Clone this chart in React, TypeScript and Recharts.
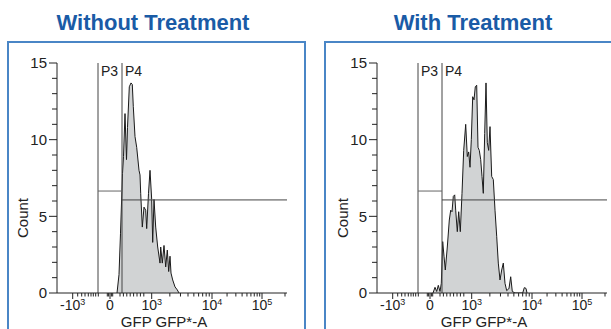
import React from 'react';
import { ComposedChart, Area, XAxis, YAxis, ReferenceLine, Label } from 'recharts';

const FONT = '"Liberation Sans", Arial, Helvetica, sans-serif';

// histogram outlines, x is the display channel of the biex axis (0..230)
const withoutChannels = [60, 62, 63.5, 65.5, 66.5, 68, 69.5, 70.5, 72.3, 74, 75.3, 76.3, 78, 79.7, 82, 83, 83.7, 85.3, 87, 88.7, 89.7, 91.5, 93, 94.7, 95.7, 97, 98.7, 100.7, 103, 103.7, 105.3, 107, 108.7, 110.3, 111.7, 113, 114, 115.7, 118, 120.3, 122];
const withoutCounts = [0, 1.2, 3.9, 7.8, 8.9, 11.7, 8.7, 10.8, 13.45, 13.7, 13.6, 12.15, 10.2, 9.5, 8.0, 7.7, 6.5, 4.3, 5.6, 5.4, 4.2, 6.5, 8.0, 6.1, 3.3, 6.1, 4.3, 3.0, 1.95, 3.0, 1.95, 3.1, 1.7, 2.8, 1.4, 2.4, 1.3, 0.85, 0.4, 0.2, 0];

const withChannels = [56, 58, 59.7, 61.3, 63, 64.3, 65.7, 67, 68.3, 70.3, 72.3, 73.7, 75, 76.3, 77.7, 78.7, 80.3, 81.7, 83.3, 85, 86.7, 88.7, 90.3, 91.7, 93, 94.3, 95.7, 97, 98.3, 99.7, 101, 102.3, 103.7, 105, 106.3, 107.7, 109, 110.3, 111.7, 113, 114.7, 116.3, 118, 119.7, 121.3, 123, 124.7, 126.3, 128, 129.7, 132, 133.7, 135.3, 138, 145.7, 147.3, 149, 150];
const withCounts = [0, 0.37, 0.1, 0.5, 0.1, 0.63, 3.35, 2.4, 1.5, 3.0, 4.76, 5.4, 5.3, 6.3, 6.4, 5.4, 4.0, 5.3, 4.0, 6.5, 9.3, 11.0, 8.9, 9.2, 8.2, 10.0, 12.8, 12.6, 13.45, 13.55, 9.5, 9.3, 8.7, 7.6, 6.5, 10.4, 13.7, 9.8, 9.3, 10.85, 7.6, 7.4, 5.4, 3.7, 1.95, 0.85, 1.5, 1.95, 0.63, 0.15, 0.3, 1.06, 0.1, 0, 0, 0.35, 0.3, 0];

// axis ticks (channels)
const xMajorTicks = [15.7, 53, 94.7, 155, 205];
const xTickBase = ['-10', '0', '10', '10', '10'];
const xTickPower = ['3', '', '3', '4', '5'];
const xMinorTicks = [
  20.7, 24.7, 28, 31.3, 34, 36.3, 38.7, 41.3,
  50.3, 51.6, 54.4, 55.7,
  63, 66.4, 69.8, 73.2, 76.6, 80, 83.4, 86.8,
  ...[2, 3, 4, 5, 6, 7, 8, 9].map((k) => 94.7 + 60.3 * Math.log10(k)),
  ...[2, 3, 4, 5, 6, 7, 8, 9].map((k) => 155 + 50 * Math.log10(k)),
  228,
];
const xTicks = [...xMajorTicks, ...xMinorTicks].sort((a, b) => a - b);
const yTicks = [0, 1, 2, 3, 4, 5, 6, 7, 8, 9, 10, 11, 12, 13, 14, 15];

// gates
const gateP3 = 41;
const gateP4 = 65;
const levelP3 = 6.65;
const levelP4 = 6.07;

const toRows = (xs: number[], ys: number[]) => xs.map((ch, i) => ({ ch, count: ys[i] }));

const XTick = (props: any) => {
  const { x, y, payload } = props;
  const i = xMajorTicks.indexOf(payload.value);
  if (i < 0) return <line x1={x} x2={x} y1={y} y2={y + 3.5} stroke="#222" />;
  return (
    <g>
      <line x1={x} x2={x} y1={y} y2={y + 6} stroke="#222" />
      <text x={x} y={y + 17} textAnchor="middle" fontSize={14} fill="#222" fontFamily={FONT}>
        {xTickBase[i]}
        {xTickPower[i] ? <tspan dy={-5} fontSize={9}>{xTickPower[i]}</tspan> : null}
      </text>
    </g>
  );
};

const YTick = (props: any) => {
  const { x, y, payload } = props;
  const major = payload.value % 5 === 0;
  return (
    <g>
      <line x1={x - (major ? 8 : 5)} x2={x} y1={y} y2={y} stroke="#222" />
      {major && (
        <text x={x - 10} y={y} dy="0.35em" textAnchor="end" fontSize={15} fill="#222" fontFamily={FONT}>
          {payload.value}
        </text>
      )}
    </g>
  );
};

const gateLabel = (text: string) => ({
  value: text,
  position: 'insideTopLeft' as const,
  offset: 3,
  fontSize: 14,
  fill: '#222',
  fontFamily: FONT,
});

const Panel = ({ rows }: { rows: { ch: number; count: number }[] }) => (
  <ComposedChart width={300} height={329} data={rows} margin={{ top: 63, right: 13, bottom: 0, left: 10 }}>
    <XAxis
      type="number"
      dataKey="ch"
      domain={[0, 230]}
      allowDataOverflow
      ticks={xTicks}
      interval={0}
      tick={<XTick />}
      tickSize={0}
      tickMargin={0}
      tickLine={false}
      axisLine={{ stroke: '#222' }}
      height={36}
    >
      <Label
        content={() => (
          <text x={164} y={326.5} textAnchor="middle" fontSize={15} fill="#222" fontFamily={FONT}>
            GFP GFP*-A
          </text>
        )}
      />
    </XAxis>
    <YAxis
      type="number"
      domain={[0, 15]}
      allowDataOverflow
      ticks={yTicks}
      interval={0}
      tick={<YTick />}
      tickSize={0}
      tickMargin={0}
      tickLine={false}
      axisLine={{ stroke: '#222' }}
      width={47}
    >
      <Label
        content={() => (
          <text x={22} y={218} transform="rotate(-90, 22, 218)" textAnchor="middle" dominantBaseline="central" fontSize={15} fill="#222" fontFamily={FONT}>
            Count
          </text>
        )}
      />
    </YAxis>
    <Area
      type="linear"
      dataKey="count"
      stroke="#1a1a1a"
      strokeWidth={1}
      fill="#d1d3d4"
      fillOpacity={1}
      baseValue={0}
      dot={false}
      activeDot={false}
      isAnimationActive={false}
    />
    <ReferenceLine x={gateP3} stroke="#444" label={gateLabel('P3')} />
    <ReferenceLine x={gateP4} stroke="#444" label={gateLabel('P4')} />
    <ReferenceLine segment={[{ x: gateP3, y: levelP3 }, { x: gateP4, y: levelP3 }]} stroke="#666" />
    <ReferenceLine segment={[{ x: gateP4, y: levelP4 }, { x: 230, y: levelP4 }]} stroke="#444" />
  </ComposedChart>
);

const titleStyle: React.CSSProperties = {
  position: 'absolute',
  top: 10,
  width: 300,
  textAlign: 'center',
  fontFamily: FONT,
  fontWeight: 'bold',
  fontSize: 22,
  lineHeight: '26px',
  color: '#1a5ba6',
};

const boxStyle: React.CSSProperties = {
  position: 'absolute',
  top: 41,
  height: 320,
  border: '2px solid #4a86c6',
};

export default function App() {
  return (
    <div style={{ position: 'absolute', left: 0, top: 0, width: 611, height: 329, overflow: 'hidden', background: '#fff' }}>
      <div style={{ ...boxStyle, left: 7, width: 295 }} />
      <div style={{ ...boxStyle, left: 324, width: 320 }} />
      <div style={{ ...titleStyle, left: 3 }}>Without Treatment</div>
      <div style={{ ...titleStyle, left: 323 }}>With Treatment</div>
      <div style={{ position: 'absolute', left: 0, top: 0 }}>
        <Panel rows={toRows(withoutChannels, withoutCounts)} />
      </div>
      <div style={{ position: 'absolute', left: 320, top: 0 }}>
        <Panel rows={toRows(withChannels, withCounts)} />
      </div>
    </div>
  );
}
